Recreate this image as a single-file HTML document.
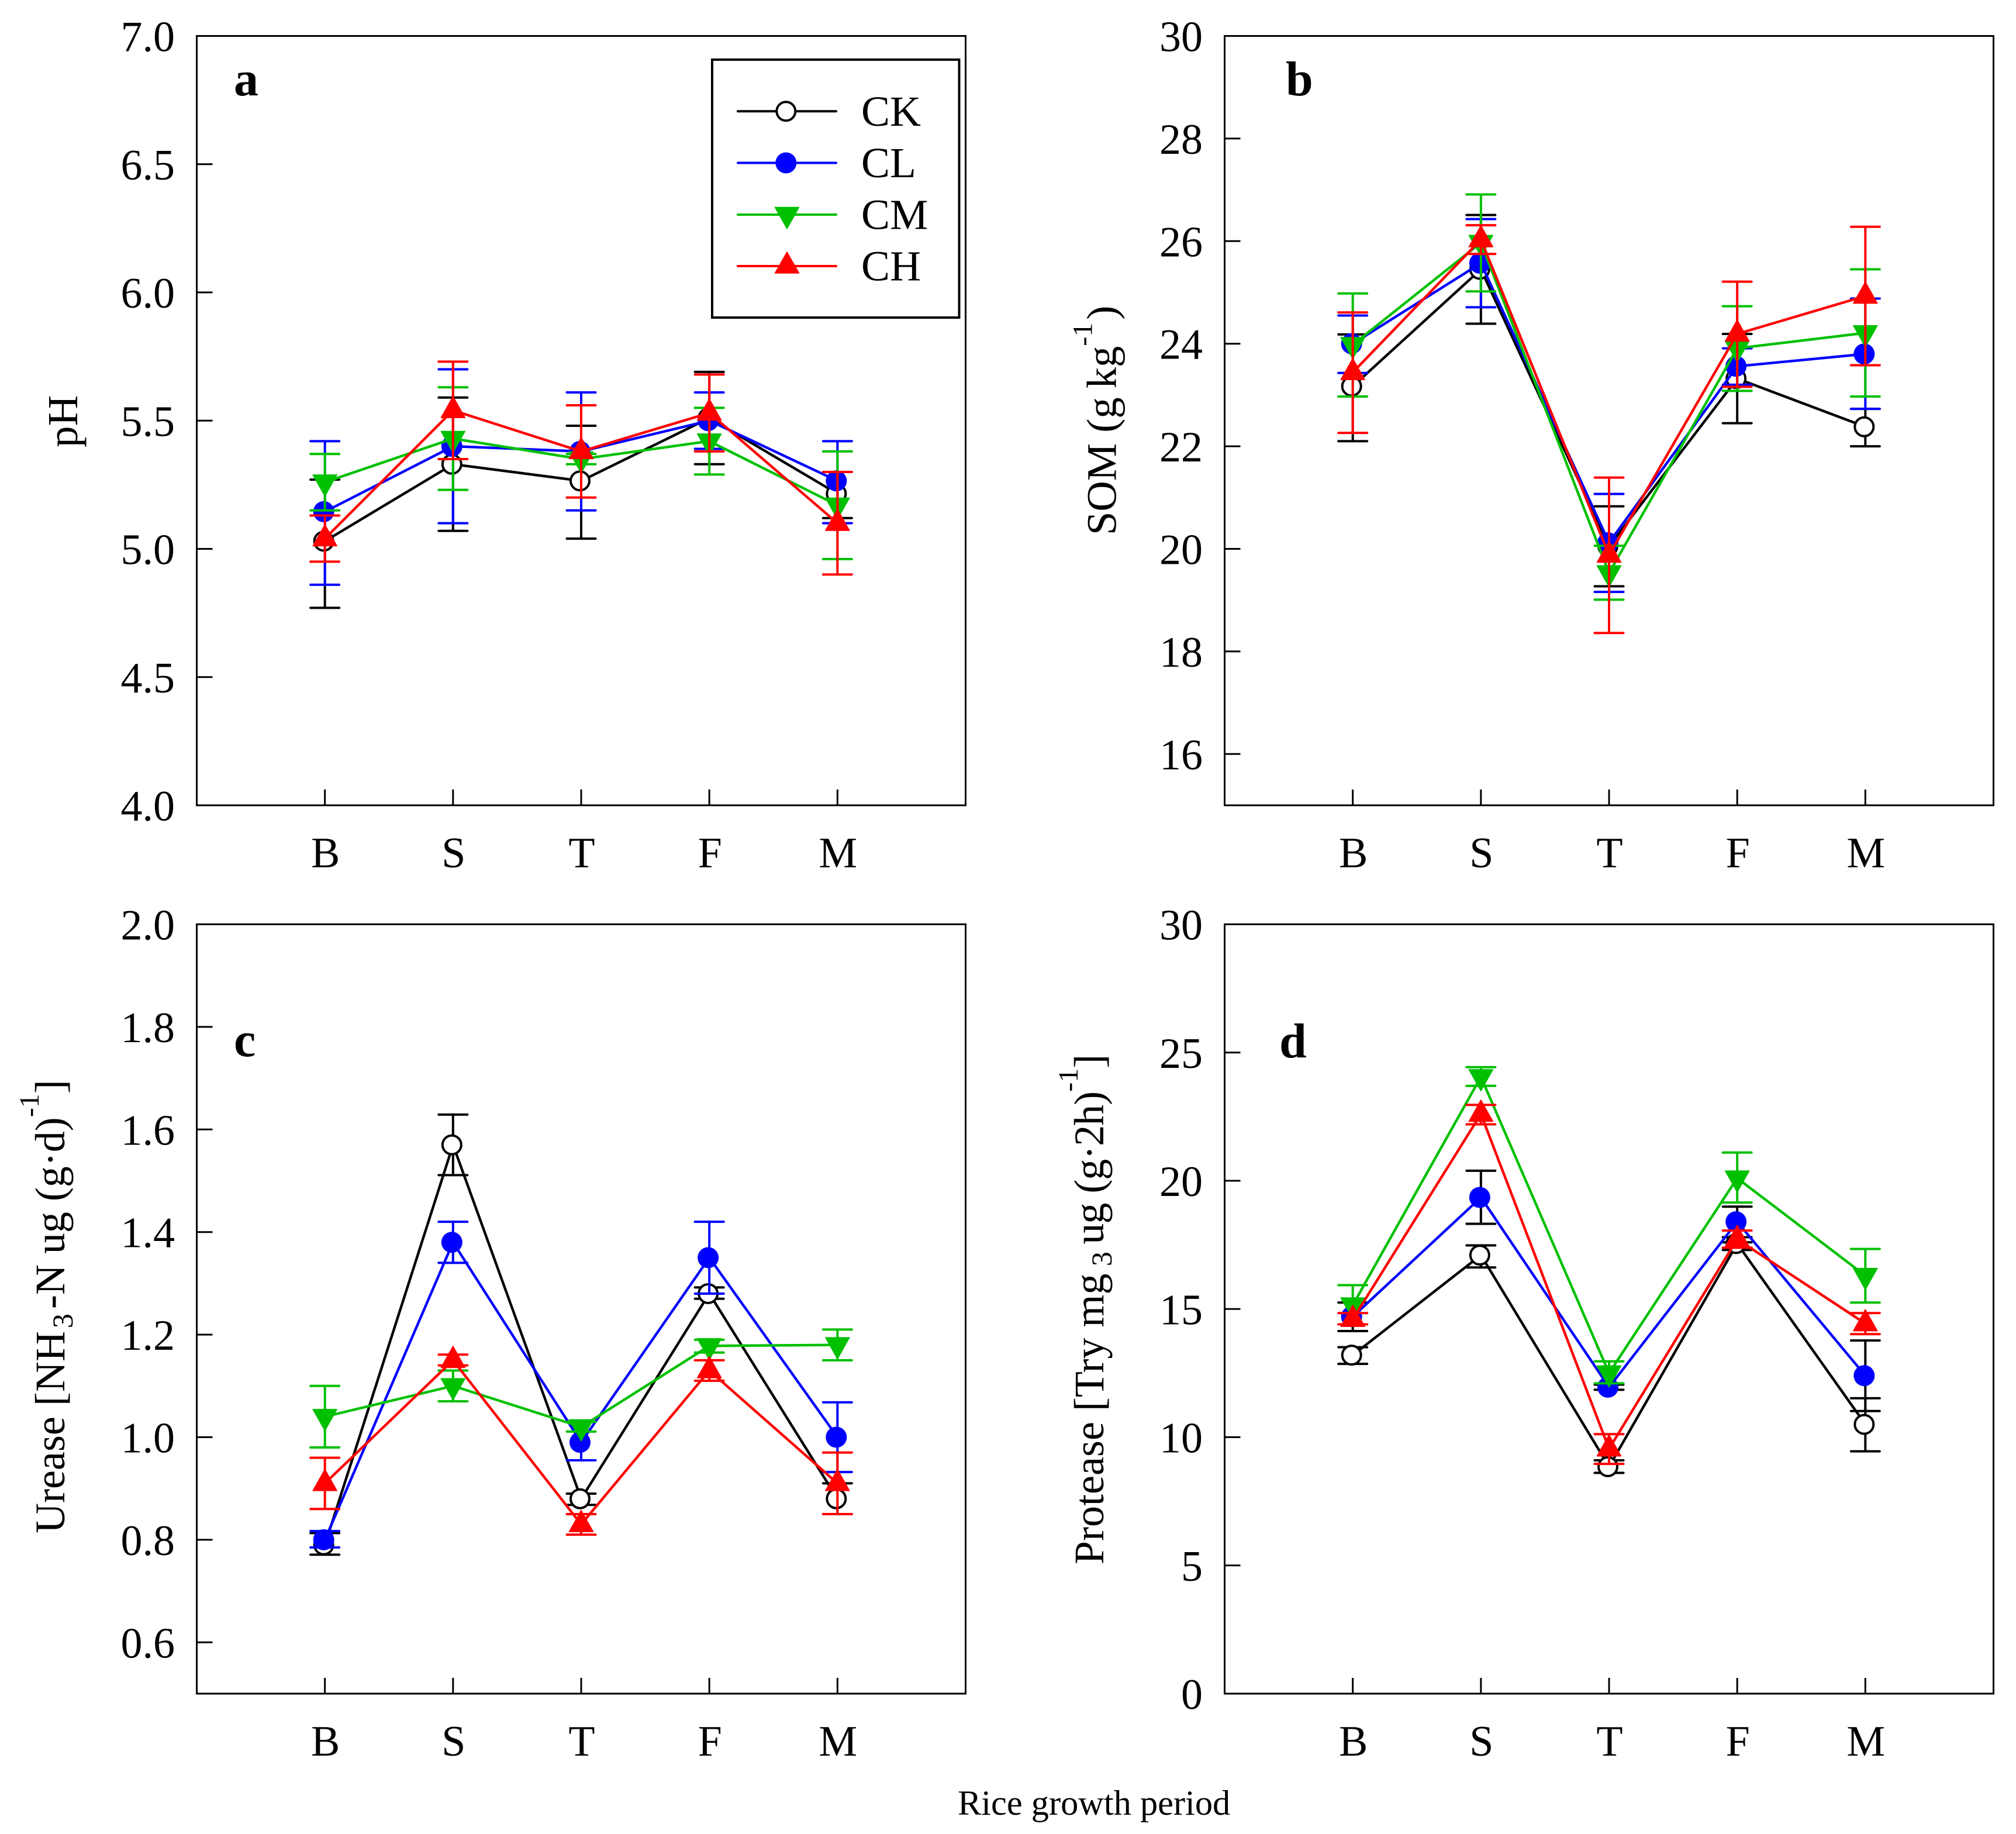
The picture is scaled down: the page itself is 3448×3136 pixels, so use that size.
<!DOCTYPE html>
<html lang="en">
<head>
<meta charset="utf-8">
<title>Soil properties over rice growth period</title>
<style>
html,body{margin:0;padding:0;background:#fff;}
svg{display:block;}
text{font-family:"Liberation Serif",serif;fill:#000;}
</style>
</head>
<body>
<svg id="figure" xmlns="http://www.w3.org/2000/svg" width="3448" height="3136" viewBox="0 0 3448 3136">
  <rect x="0" y="0" width="3448" height="3136" fill="#fff"/>
  <g id="panel-a"></g>
  <g id="panel-b"></g>
  <g id="panel-c"></g>
  <g id="panel-d"></g>

  <text x="400" y="163" font-size="84" font-weight="bold">a</text>
  <text x="2199" y="163" font-size="84" font-weight="bold">b</text>
  <text x="400" y="1806" font-size="84" font-weight="bold">c</text>
  <text x="2188" y="1808" font-size="84" font-weight="bold">d</text>

  <text transform="translate(132,765) rotate(-90)" font-size="73">pH</text>
  <text transform="translate(1908.5,915) rotate(-90)" font-size="72.5">SOM (g <tspan dx="-3">kg</tspan><tspan font-size="48" dy="-41">-1</tspan><tspan dx="5" dy="41">)</tspan></text>
  <text transform="translate(110,2622) rotate(-90)" font-size="72">Urease [NH<tspan font-size="50" dx="5" dy="14">3</tspan><tspan dx="8" dy="-14">-N ug (g·d)</tspan><tspan font-size="48" dy="-44">-1</tspan><tspan dy="44">]</tspan></text>
  <text transform="translate(1887,2675) rotate(-90)" font-size="72">Protease [Try mg<tspan font-size="50" dy="14"> 3 </tspan><tspan dy="-14" letter-spacing="-1">ug (g·2h)</tspan><tspan font-size="48" dy="-44">-1</tspan><tspan dy="44">]</tspan></text>
  <text x="1638" y="3103" font-size="60.4">Rice growth period</text>

  <g id="legend">
    <rect x="1218" y="102" width="422.5" height="441" fill="#fff" stroke="#000" stroke-width="4"/>
    <g>
      <line x1="1262" x2="1430" y1="190.3" y2="190.3" stroke="#000" stroke-width="4" stroke-linecap="round"/>
      <circle cx="1344.3" cy="190.3" r="16" fill="#fff" stroke="#000" stroke-width="4"/>
      <text x="1473" y="215" font-size="73.5">CK</text>
    </g>
    <g>
      <line x1="1262" x2="1430" y1="278.5" y2="278.5" stroke="#0000ff" stroke-width="4" stroke-linecap="round"/>
      <circle cx="1344.3" cy="278.5" r="18" fill="#0000ff"/>
      <text x="1473" y="303" font-size="73.5">CL</text>
    </g>
    <g>
      <line x1="1262" x2="1430" y1="367" y2="367" stroke="#00c000" stroke-width="4" stroke-linecap="round"/>
      <polygon points="1325.5,354.5 1366.5,354.5 1346,391" fill="#00c000" stroke="#00c000" stroke-width="1.5" stroke-linejoin="round"/>
      <text x="1473" y="391.5" font-size="73.5">CM</text>
    </g>
    <g>
      <line x1="1262" x2="1430" y1="455" y2="455" stroke="#ff0000" stroke-width="4" stroke-linecap="round"/>
      <polygon points="1325.5,467 1366.5,467 1346,431" fill="#ff0000" stroke="#ff0000" stroke-width="1.5" stroke-linejoin="round"/>
      <text x="1473" y="479.5" font-size="73.5">CH</text>
    </g>
  </g>
</svg>
<script>
const categories = ['B', 'S', 'T', 'F', 'M'];

const phTicks = ['4.0', '4.5', '5.0', '5.5', '6.0', '6.5', '7.0'];
const somTicks = ['16', '18', '20', '22', '24', '26', '28', '30'];
const ureaseTicks = ['0.6', '0.8', '1.0', '1.2', '1.4', '1.6', '1.8', '2.0'];
const proteaseTicks = ['0', '5', '10', '15', '20', '25', '30'];

const phCK = [5.03, 5.33, 5.265, 5.51, 5.215];
const phCKHi = [5.27, 5.59, 5.48, 5.69, 5.30];
const phCKLo = [4.77, 5.07, 5.04, 5.33, 5.12];
const phCL = [5.145, 5.40, 5.38, 5.50, 5.265];
const phCLHi = [5.42, 5.70, 5.61, 5.61, 5.42];
const phCLLo = [4.86, 5.10, 5.15, 5.39, 5.10];
const phCM = [5.26, 5.43, 5.35, 5.42, 5.17];
const phCMHi = [5.37, 5.63, 5.37, 5.55, 5.38];
const phCMLo = [5.15, 5.23, 5.33, 5.29, 4.96];
const phCH = [5.04, 5.54, 5.38, 5.53, 5.10];
const phCHHi = [5.13, 5.73, 5.56, 5.68, 5.30];
const phCHLo = [4.95, 5.35, 5.20, 5.38, 4.90];

const somCK = [23.17, 25.45, 20.05, 23.32, 22.38];
const somCKHi = [24.18, 26.51, 20.83, 24.19, 22.73];
const somCKLo = [22.10, 24.39, 19.27, 22.45, 22.00];
const somCL = [24.00, 25.57, 20.12, 23.56, 23.80];
const somCLHi = [24.55, 26.43, 21.07, 23.91, 24.88];
const somCLLo = [23.43, 24.71, 19.16, 23.20, 22.73];
const somCM = [23.98, 25.97, 19.53, 23.91, 24.21];
const somCMHi = [24.98, 26.91, 20.06, 24.73, 25.45];
const somCMLo = [22.97, 25.02, 19.01, 23.08, 22.97];
const somCH = [23.44, 26.03, 19.88, 24.19, 24.93];
const somCHHi = [24.61, 26.31, 21.39, 25.21, 26.28];
const somCHLo = [22.26, 25.75, 18.36, 23.16, 23.58];

const ureaseCK = [0.79, 1.57, 0.88, 1.28, 0.88];
const ureaseCKHi = [0.813, 1.629, 0.89, 1.292, 0.91];
const ureaseCKLo = [0.771, 1.511, 0.868, 1.27, 0.85];
const ureaseCL = [0.80, 1.38, 0.99, 1.35, 1.00];
const ureaseCLHi = [0.817, 1.42, 1.03, 1.42, 1.068];
const ureaseCLLo = [0.785, 1.34, 0.955, 1.28, 0.932];
const ureaseCM = [1.04, 1.10, 1.02, 1.178, 1.18];
const ureaseCMHi = [1.10, 1.13, 1.03, 1.19, 1.21];
const ureaseCMLo = [0.98, 1.07, 1.011, 1.165, 1.15];
const ureaseCH = [0.91, 1.15, 0.83, 1.13, 0.91];
const ureaseCHHi = [0.96, 1.161, 0.85, 1.15, 0.97];
const ureaseCHLo = [0.86, 1.14, 0.81, 1.11, 0.85];

const proteaseCK = [13.2, 17.1, 8.85, 17.55, 10.5];
const proteaseCKHi = [13.51, 17.48, 9.1, 17.8, 11.52];
const proteaseCKLo = [12.86, 16.62, 8.61, 17.3, 9.45];
const proteaseCL = [14.7, 19.35, 11.95, 18.4, 12.4];
const proteaseCLHi = [15.25, 20.39, 12.05, 18.99, 13.77];
const proteaseCLLo = [14.14, 18.32, 11.85, 17.6, 11.02];
const proteaseCM = [15.15, 24.05, 12.5, 20.1, 16.3];
const proteaseCMHi = [15.93, 24.43, 12.96, 21.1, 17.34];
const proteaseCMLo = [14.4, 23.7, 12.1, 19.15, 15.25];
const proteaseCH = [14.6, 22.6, 9.55, 17.72, 14.43];
const proteaseCHHi = [14.84, 22.96, 10.12, 18.06, 14.84];
const proteaseCHLo = [14.4, 22.2, 8.96, 17.39, 14.02];

const SVG_NS = 'http://www.w3.org/2000/svg';
const COLORS = { ck: '#000000', cl: '#0000ff', cm: '#00c000', ch: '#ff0000' };

function make(tag, attrs, parent) {
  const el = document.createElementNS(SVG_NS, tag);
  for (const k in attrs) el.setAttribute(k, attrs[k]);
  parent.appendChild(el);
  return el;
}

function drawPanel(id, left, top, yMin, yMax, tickLabels, series) {
  const width = 1315, height = 1315.5;
  const root = document.getElementById(id);
  const xScale = function (i) { return left + (i + 1) * width / 6; };
  const yScale = function (v) { return top + height - (v - yMin) / (yMax - yMin) * height; };

  const frame = make('rect', { x: left, y: top, width: width, height: height, fill: 'none', stroke: '#000', 'stroke-width': 3 }, root);
  
  

  tickLabels.forEach(function (label) {
    const y = yScale(parseFloat(label));
    const tick = make('line', { x1: left, x2: left + 27, y1: y, y2: y, stroke: '#000', 'stroke-width': 3 }, root);
    
    
    const text = make('text', { x: left - 37.5, y: y + 26, 'font-size': 74, 'text-anchor': 'end' }, root);
    
    
    text.textContent = label;
  });

  categories.forEach(function (label, i) {
    const x = xScale(i);
    const tick = make('line', { x1: x, x2: x, y1: top + height - 27, y2: top + height, stroke: '#000', 'stroke-width': 3 }, root);
    
    
    const text = make('text', { x: x + 1, y: top + height + 106, 'font-size': 74, 'text-anchor': 'middle' }, root);
    
    
    text.textContent = label;
  });

  series.forEach(function (s) {
    const color = COLORS[s.key];
    const barColor = COLORS[s.barKey || s.key];
    s.hi.forEach(function (hi, i) {
      const x = xScale(i), yHi = yScale(hi), yLo = yScale(s.lo[i]);
      const bar = make('path', {
        d: 'M' + x + ' ' + yHi + 'V' + yLo + 'M' + (x - 24.5) + ' ' + yHi + 'H' + (x + 24.5) + 'M' + (x - 24.5) + ' ' + yLo + 'H' + (x + 24.5),
        fill: 'none', stroke: barColor, 'stroke-width': 4, 'stroke-linecap': 'round'
      }, root);
      
      
    });
    const pts = s.mean.map(function (v, i) { return xScale(i) + ',' + yScale(v); }).join(' ');
    const line = make('polyline', { points: pts, fill: 'none', stroke: color, 'stroke-width': 4.4, 'stroke-linejoin': 'round' }, root);
    
    
    s.mean.forEach(function (v, i) {
      const x = xScale(i), y = yScale(v);
      let mark;
      if (s.key === 'ck') {
        mark = make('circle', { cx: x - 2, cy: y, r: 16, fill: '#fff', stroke: color, 'stroke-width': 4 }, root);
      } else if (s.key === 'cl') {
        mark = make('circle', { cx: x - 2, cy: y, r: 18, fill: color }, root);
      } else if (s.key === 'cm') {
        mark = make('polygon', { points: (x - 20.5) + ',' + (y - 12.5) + ' ' + (x + 20.5) + ',' + (y - 12.5) + ' ' + x + ',' + (y + 24), fill: color, stroke: color, 'stroke-width': 1.5, 'stroke-linejoin': 'round' }, root);
      } else {
        mark = make('polygon', { points: (x - 20.5) + ',' + (y + 12.5) + ' ' + (x + 20.5) + ',' + (y + 12.5) + ' ' + x + ',' + (y - 24), fill: color, stroke: color, 'stroke-width': 1.5, 'stroke-linejoin': 'round' }, root);
      }
      
      
    });
  });
}

drawPanel('panel-a', 336.5, 61.5, 4, 7, phTicks, [
  { key: 'ck', mean: phCK, hi: phCKHi, lo: phCKLo },
  { key: 'cl', mean: phCL, hi: phCLHi, lo: phCLLo },
  { key: 'cm', mean: phCM, hi: phCMHi, lo: phCMLo },
  { key: 'ch', mean: phCH, hi: phCHHi, lo: phCHLo }
]);
drawPanel('panel-b', 2094.5, 61.5, 15, 30, somTicks, [
  { key: 'ck', mean: somCK, hi: somCKHi, lo: somCKLo },
  { key: 'cl', mean: somCL, hi: somCLHi, lo: somCLLo },
  { key: 'cm', mean: somCM, hi: somCMHi, lo: somCMLo },
  { key: 'ch', mean: somCH, hi: somCHHi, lo: somCHLo }
]);
drawPanel('panel-c', 336.5, 1580.5, 0.5, 2.0, ureaseTicks, [
  { key: 'ck', mean: ureaseCK, hi: ureaseCKHi, lo: ureaseCKLo },
  { key: 'cl', mean: ureaseCL, hi: ureaseCLHi, lo: ureaseCLLo },
  { key: 'cm', mean: ureaseCM, hi: ureaseCMHi, lo: ureaseCMLo },
  { key: 'ch', mean: ureaseCH, hi: ureaseCHHi, lo: ureaseCHLo }
]);
drawPanel('panel-d', 2094.5, 1580.5, 0, 30, proteaseTicks, [
  { key: 'ck', mean: proteaseCK, hi: proteaseCKHi, lo: proteaseCKLo },
  { key: 'cl', barKey: 'ck', mean: proteaseCL, hi: proteaseCLHi, lo: proteaseCLLo },
  { key: 'cm', mean: proteaseCM, hi: proteaseCMHi, lo: proteaseCMLo },
  { key: 'ch', mean: proteaseCH, hi: proteaseCHHi, lo: proteaseCHLo }
]);
</script>
</body>
</html>
